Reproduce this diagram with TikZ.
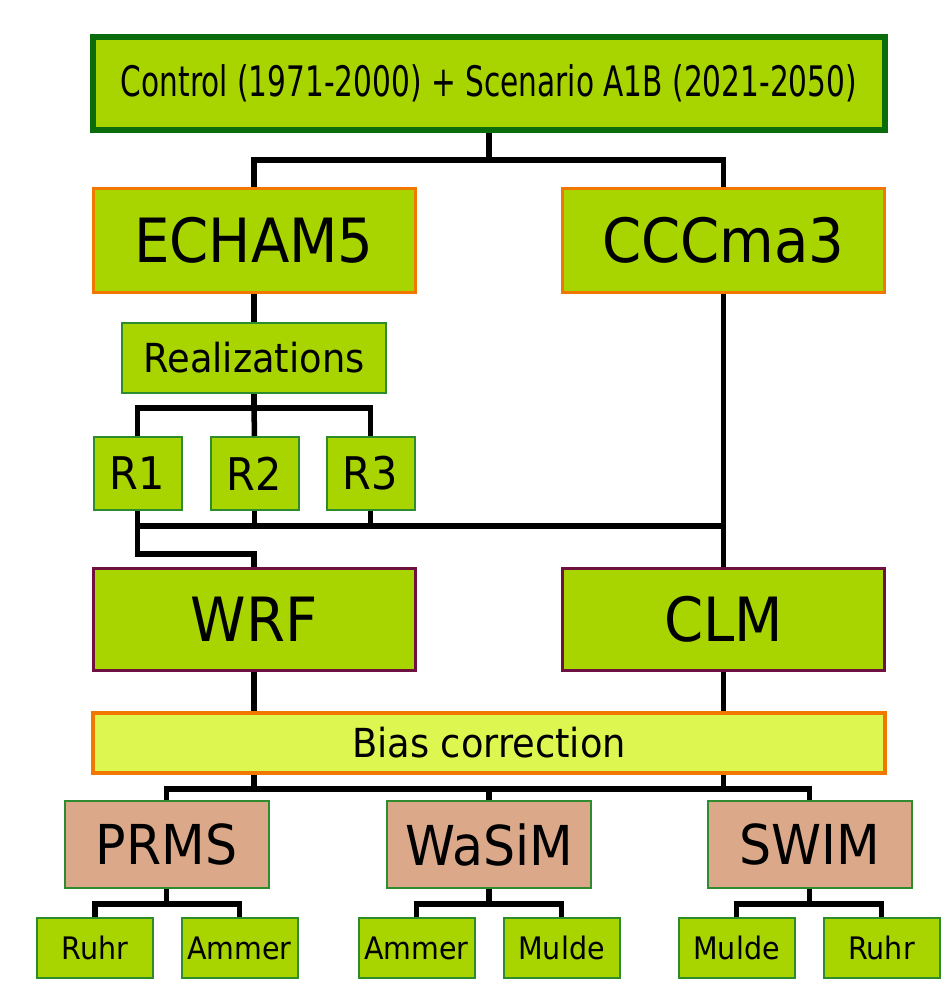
\documentclass[tikz,border=0pt]{standalone}
\usepackage{fontspec}
\setmainfont{DejaVu Sans}
\newfontfamily\narrowfont[FakeStretch=0.705]{DejaVu Sans}
\newfontfamily\labelfont[FakeStretch=0.92]{DejaVu Sans}
\usepackage{tikz}
\usetikzlibrary{calc}
\usetikzlibrary{positioning}
\definecolor{leaf}{RGB}{168,212,0}
\definecolor{pale}{RGB}{221,247,80}
\definecolor{tan}{RGB}{219,169,138}
\definecolor{darkgreen}{RGB}{10,108,10}
\definecolor{thingreen}{RGB}{46,139,46}
\definecolor{orangeline}{RGB}{240,120,0}
\definecolor{plum}{RGB}{110,16,64}
\tikzstyle{box} = [rectangle, inner sep=0, fill=leaf, text=black]
\tikzstyle{topbox} = [box, draw=darkgreen, line width=5.5pt, minimum width=792pt, minimum height=93pt, font=\narrowfont\fontsize{42}{46}\selectfont]
\tikzstyle{gcmbox} = [box, draw=orangeline, line width=3pt, minimum width=322pt, minimum height=104pt, font=\labelfont\fontsize{61}{64}\selectfont]
\tikzstyle{rcmbox} = [box, draw=plum, line width=3pt, minimum width=322pt, minimum height=102pt, font=\labelfont\fontsize{61}{64}\selectfont]
\tikzstyle{realbox} = [box, draw=thingreen, line width=2pt, font=\labelfont\fontsize{40}{44}\selectfont]
\tikzstyle{biasbox} = [box, fill=pale, draw=orangeline, line width=4pt, minimum width=792pt, minimum height=60pt, font=\labelfont\fontsize{40}{44}\selectfont]
\tikzstyle{hydbox} = [box, fill=tan, draw=thingreen, line width=2pt, minimum width=204pt, minimum height=87pt, font=\labelfont\fontsize{55}{58}\selectfont]
\tikzstyle{basinbox} = [box, draw=thingreen, line width=2pt, minimum width=116pt, minimum height=60pt, font=\labelfont\fontsize{31}{34}\selectfont]
\tikzstyle{link} = [-, line width=5.5pt, black]

\begin{document}
\begin{tikzpicture}[x=1pt, y=1pt]
\useasboundingbox (0,0) rectangle (940,-982);
% forcing and global models
\node [topbox] (forcing) at (489,-83.5) {Control (1971-2000) + Scenario A1B (2021-2050)};
\node [gcmbox] (echam) at (254,-240) {ECHAM5};
\node [gcmbox] (cccma) at (723.5,-240) {CCCma3};
\node [realbox, minimum width=264pt, minimum height=70pt] (real) at (254,-358) {Realizations};
\node [realbox, minimum width=88pt, minimum height=73pt, font=\labelfont\fontsize{45}{48}\selectfont] (R1) at (137.5,-473.5) {R1};
\node [realbox, minimum width=88pt, minimum height=73pt, font=\labelfont\fontsize{45}{48}\selectfont] (R2) at (254.5,-473.5) {R2};
\node [realbox, minimum width=88pt, minimum height=73pt, font=\labelfont\fontsize{45}{48}\selectfont] (R3) at (370.5,-473.5) {R3};
% regional models
\node [rcmbox] (wrf) at (254,-619) {WRF};
\node [rcmbox] (clm) at (723.5,-619) {CLM};
\node [biasbox] (bias) at (489,-743) {Bias correction};
% hydrological models and basins
\node [hydbox] (prms) at (166.5,-844.5) {PRMS};
\node [hydbox] (wasim) at (489,-844.5) {WaSiM};
\node [hydbox] (swim) at (809.5,-844.5) {SWIM};
\node [basinbox] (ruhrA) at (95,-948) {Ruhr};
\node [basinbox] (ammerA) at (239.5,-948) {Ammer};
\node [basinbox] (ammerB) at (416.5,-948) {Ammer};
\node [basinbox] (muldeA) at (561.5,-948) {Mulde};
\node [basinbox] (muldeB) at (736.5,-948) {Mulde};
\node [basinbox] (ruhrB) at (881.5,-948) {Ruhr};

\draw [link] (forcing.south) -- ++(0,-27) coordinate (fj);
\draw [link] (echam.north) |- (fj) -| (cccma.north);
\draw [link] (echam.south) -- (real.north);
\draw [link] (real.south) -- ++(0,-14) coordinate (rj);
\draw [link] (R1.north) |- (rj) -| (R3.north);
\draw [link] (rj) -- (R2.north);
\draw [link] (cccma.south) -- (clm.north);
\draw [link] (R1.south) -- ++(0,-15) coordinate (rbus);
\draw [link] (rbus) -- (rbus -| clm.north);
\draw [link] (R2.south) -- (R2.south |- rbus);
\draw [link] (R3.south) -- (R3.south |- rbus);
\draw [link] (rbus) -- ++(0,-28) -| (wrf.north);
\draw [link] (wrf.south) -- (wrf.south |- bias.north);
\draw [link] (clm.south) -- (clm.south |- bias.north);
\coordinate (hbus) at ($(bias.south)+(0,-14)$);
\draw [link] (prms.north) |- (hbus) -| (swim.north);
\draw [link] (hbus) -- (wasim.north);
\draw [link] (bias.south -| wrf.south) -- (wrf.south |- hbus);
\draw [link] (bias.south -| clm.south) -- (clm.south |- hbus);
\draw [link] (prms.south) -- ++(0,-15) coordinate (pj);
\draw [link] (ruhrA.north) |- (pj) -| (ammerA.north);
\draw [link] (wasim.south) -- ++(0,-15) coordinate (wj);
\draw [link] (ammerB.north) |- (wj) -| (muldeA.north);
\draw [link] (swim.south) -- ++(0,-15) coordinate (sj);
\draw [link] (muldeB.north) |- (sj) -| (ruhrB.north);
\end{tikzpicture}
\end{document}
